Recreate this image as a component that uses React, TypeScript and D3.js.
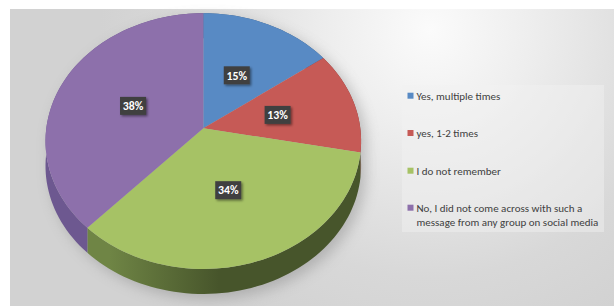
import * as d3 from 'd3';

const categories = [
  'Yes, multiple times',
  'yes, 1-2 times',
  'I do not remember',
  'No, I did not come across with such a message from any group on social media',
];
const values = [15, 13, 34, 38];
const legendLines = [
  ['Yes, multiple times'],
  ['yes, 1-2 times'],
  ['I do not remember'],
  ['No, I did not come across with such a', 'message from any group on social media'],
];
const topColors = ['#588ac4', '#c65a56', '#a6c265', '#8d70ab'];
const sideLight = ['#46709f', '#9c4542', '#6f8545', '#6d5890'];
const sideDark = ['#3a5d85', '#833a37', '#47552b', '#5a4878'];

const W = 614;
const H = 306;
// perspective-ish projection of the pie disc
const cx = 203.3;
const cy = 128.3;
const A = 157;
const B = 126.6;
const k = 0.1;
const depth = 25;

const proj = (a: number, r = 1): [number, number] => {
  const u = Math.sin(a) * r;
  const v = -Math.cos(a) * r;
  const d = 1 - k * v;
  return [cx + (A * u) / d, cy + (B * v) / d];
};

const arcPts = (a0: number, a1: number, r = 1) => {
  const n = Math.max(2, Math.ceil(((a1 - a0) / (Math.PI * 2)) * 180));
  return d3.range(n + 1).map((i) => proj(a0 + ((a1 - a0) * i) / n, r));
};

const line = d3.line<[number, number]>();

export default function App() {
  const arcs = d3
    .pie<number>()
    .sort(null)
    .value((d) => d)(values);
  const total = d3.sum(values);

  const topPath = (a0: number, a1: number) => line([[cx, cy], ...arcPts(a0, a1)])! + 'Z';
  const sidePath = (a0: number, a1: number) => {
    const t = arcPts(a0, a1);
    const b = t.map(([x, y]) => [x, y + depth] as [number, number]).reverse();
    return line([...t, ...b])! + 'Z';
  };

  const fullTop = topPath(0, Math.PI * 2);
  const fullSide = sidePath(0, Math.PI * 2);

  return (
    <svg width={W} height={H} style={{ position: 'absolute', left: 0, top: 0 }} fontFamily="Carlito, 'Liberation Sans Narrow', Lato, sans-serif">
      <defs>
        <radialGradient id="bg" gradientUnits="userSpaceOnUse" cx={430} cy={30} r={330}>
          <stop offset="0" stopColor="#fbfbfb" />
          <stop offset="0.3" stopColor="#eeeeee" />
          <stop offset="0.75" stopColor="#d8d8d8" />
          <stop offset="1" stopColor="#d2d2d2" />
        </radialGradient>
        {sideLight.map((c, i) => (
          <linearGradient key={i} id={`side${i}`} gradientUnits="userSpaceOnUse" x1={cx - A} x2={cx + A} y1={0} y2={0}>
            <stop offset="0" stopColor={c} />
            <stop offset="0.2" stopColor={c} />
            <stop offset="0.55" stopColor={sideDark[i]} />
            <stop offset="1" stopColor={sideDark[i]} />
          </linearGradient>
        ))}
        <filter id="pieShadow" x="-20%" y="-20%" width="140%" height="140%">
          <feGaussianBlur stdDeviation="7" />
        </filter>
        <filter id="lblShadow" x="-30%" y="-30%" width="160%" height="160%">
          <feDropShadow dx="1.5" dy="1.5" stdDeviation="1.2" floodColor="#000" floodOpacity="0.45" />
        </filter>
      </defs>
      <rect width={W} height={H} fill="#fff" />
      <rect x={10} y={9} width={W - 10} height={H - 9} fill="url(#bg)" />

      <g transform="translate(5,5)" filter="url(#pieShadow)" opacity={0.4}>
        <path d={fullSide} fill="#777" />
        <path d={fullTop} fill="#777" />
      </g>

      {arcs.map((a, i) => (
        <path key={`s${i}`} d={sidePath(a.startAngle, a.endAngle)} fill={`url(#side${i})`} />
      ))}
      {arcs.map((a, i) => (
        <path key={`t${i}`} d={topPath(a.startAngle, a.endAngle)} fill={topColors[i]} />
      ))}

      {arcs.map((a, i) => {
        const [x, y] = proj((a.startAngle + a.endAngle) / 2, 0.49);
        const pct = `${Math.round((values[i] / total) * 100)}%`;
        return (
          <g key={`l${i}`} transform={`translate(${x},${y})`}>
            <rect x={-13} y={-9} width={26} height={18} fill="#404040" filter="url(#lblShadow)" />
            <text textAnchor="middle" dy="0.36em" fill="#fff" fontSize={11.8} fontWeight="bold">
              {pct}
            </text>
          </g>
        );
      })}

      <rect x={402} y={85} width={202} height={147} fill="#f2f2f2" opacity={0.45} />
      {categories.map((c, i) => {
        const yc = [95.7, 133, 170.7, 207.7][i];
        return (
          <g key={`g${i}`}>
            <rect x={407.5} y={yc - 3} width={6} height={6} fill={topColors[i]} />
            {legendLines[i].map((ln, j) => (
              <text key={j} x={416.5} y={yc + j * 14} dy="0.35em" fontSize={11} fill="#404040">
                {ln}
              </text>
            ))}
          </g>
        );
      })}
    </svg>
  );
}
